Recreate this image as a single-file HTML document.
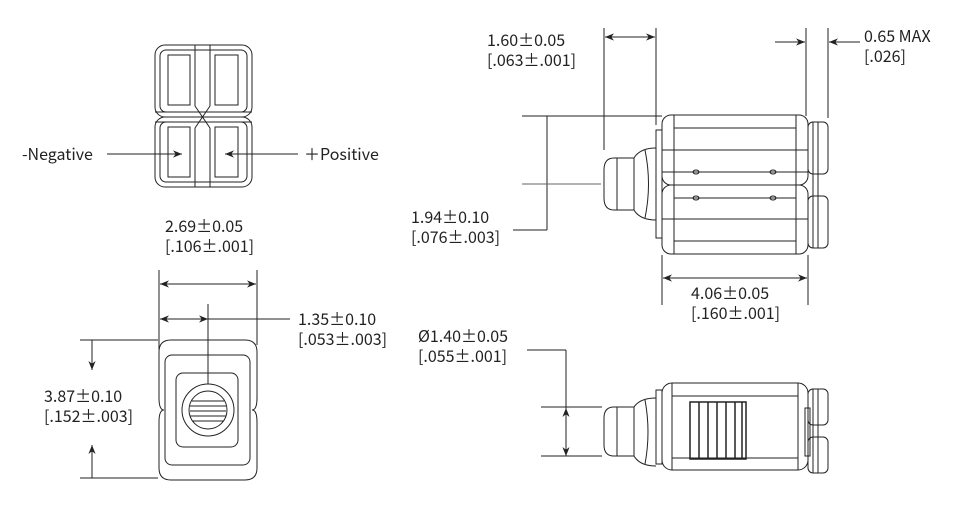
<!DOCTYPE html>
<html><head><meta charset="utf-8"><style>
html,body{margin:0;padding:0;background:#fff}
svg{display:block}
text{font-family:"Noto Sans CJK SC","Liberation Sans",sans-serif;font-size:16px;fill:#222}
</style></head><body>
<svg width="961" height="518" viewBox="0 0 961 518" xmlns="http://www.w3.org/2000/svg">
<defs>
<marker id="a" viewBox="0 0 10 10" refX="10" refY="5" markerWidth="9" markerHeight="9" orient="auto-start-reverse" markerUnits="userSpaceOnUse"><path d="M0,1 L10,5 L0,9 L3,5 Z" fill="#222"/></marker>
</defs>
<g fill="none" stroke="#222" stroke-width="1">
<!-- top-left view -->
<rect x="155" y="45" width="97" height="72" rx="10"/>
<rect x="155" y="117" width="97" height="70" rx="10"/>
<rect x="160" y="50" width="87" height="62" rx="6"/>
<rect x="160" y="122" width="87" height="60" rx="6"/>
<line x1="195" y1="45" x2="195" y2="106"/><line x1="210" y1="45" x2="210" y2="106"/>
<line x1="195" y1="128" x2="195" y2="187"/><line x1="210" y1="128" x2="210" y2="187"/>
<line x1="195" y1="106" x2="210" y2="128"/><line x1="210" y1="106" x2="195" y2="128"/>
<rect x="168" y="55" width="22" height="50"/><rect x="215" y="55" width="23" height="50"/>
<rect x="168" y="127" width="22" height="50"/><rect x="215" y="127" width="23" height="50"/>
<line x1="155" y1="112" x2="252" y2="112"/><line x1="155" y1="122" x2="252" y2="122"/>
<line x1="107" y1="154" x2="182" y2="154" marker-end="url(#a)"/>
<line x1="298" y1="154" x2="225" y2="154" marker-end="url(#a)"/>

<!-- bottom-left view -->
<path d="M171,340 H245 Q257,340 257,352 V398 Q257,410 252,410 Q257,410 257,422 V468 Q257,480 245,480 H171 Q159,480 159,468 V422 Q159,410 164,410 Q159,410 159,398 V352 Q159,340 171,340 Z"/>
<rect x="165" y="355" width="85" height="110" rx="7"/>
<rect x="176" y="373" width="62" height="74" rx="7"/>
<circle cx="208" cy="410" r="26"/><circle cx="208" cy="410" r="19"/>
<g stroke-width="1"><line x1="192" y1="401" x2="224" y2="401"/><line x1="190" y1="406" x2="226" y2="406"/><line x1="190" y1="411" x2="226" y2="411"/><line x1="190" y1="416" x2="226" y2="416"/><line x1="192" y1="421" x2="224" y2="421"/></g>
<line x1="159" y1="270" x2="159" y2="350"/><line x1="257" y1="270" x2="257" y2="345"/>
<line x1="160" y1="284" x2="256" y2="284" marker-start="url(#a)" marker-end="url(#a)"/>
<line x1="160" y1="319" x2="208" y2="319" marker-start="url(#a)" marker-end="url(#a)"/>
<line x1="208" y1="319" x2="290" y2="319"/>
<line x1="208" y1="304" x2="208" y2="384"/>
<line x1="80" y1="340" x2="158" y2="340"/><line x1="80" y1="478" x2="158" y2="478"/>
<line x1="92" y1="340" x2="92" y2="370" marker-end="url(#a)"/>
<line x1="92" y1="478" x2="92" y2="445" marker-end="url(#a)"/>

<!-- top-right view -->
<line x1="604" y1="28" x2="604" y2="150"/><line x1="656" y1="28" x2="656" y2="125"/>
<line x1="605" y1="37" x2="655" y2="37" marker-start="url(#a)" marker-end="url(#a)"/>
<line x1="806" y1="28" x2="806" y2="116"/><line x1="828" y1="28" x2="828" y2="118"/>
<line x1="775" y1="42" x2="805" y2="42" marker-end="url(#a)"/>
<line x1="860" y1="42" x2="829" y2="42" marker-end="url(#a)"/>
<line x1="522" y1="116" x2="662" y2="116"/>
<line x1="547" y1="116" x2="547" y2="230"/><line x1="513" y1="230" x2="547" y2="230"/>
<line x1="522" y1="184" x2="601" y2="184" stroke="#666"/>
<rect x="662" y="115" width="146" height="70" rx="9"/>
<rect x="662" y="185" width="146" height="69" rx="9"/>
<line x1="674" y1="128" x2="796" y2="128"/><line x1="662" y1="150" x2="808" y2="150"/>
<line x1="662" y1="172" x2="808" y2="172"/><line x1="674" y1="198" x2="796" y2="198"/>
<line x1="662" y1="219" x2="808" y2="219"/><line x1="674" y1="241" x2="796" y2="241"/>
<line x1="674" y1="115" x2="674" y2="254"/><line x1="796" y1="115" x2="796" y2="254"/>
<ellipse cx="696" cy="172" rx="3" ry="2"/><ellipse cx="773" cy="172" rx="3" ry="2"/>
<ellipse cx="696" cy="198" rx="3" ry="2"/><ellipse cx="773" cy="198" rx="3" ry="2"/>
<rect x="656" y="130" width="6" height="108"/>
<path d="M656,148 Q640,148 634,158 H614 Q604,158 604,170 V198 Q604,210 614,210 H634 Q640,220 656,220"/>
<line x1="617" y1="158" x2="617" y2="210"/><line x1="634" y1="158" x2="634" y2="210"/>
<path d="M645,150 Q652,184 645,218"/>
<rect x="808" y="122" width="20" height="52" rx="5"/><rect x="808" y="196" width="20" height="52" rx="5"/>
<line x1="813" y1="122" x2="813" y2="248"/><line x1="818" y1="122" x2="818" y2="248"/>
<line x1="662" y1="255" x2="662" y2="305"/><line x1="808" y1="255" x2="808" y2="305"/>
<line x1="663" y1="278" x2="807" y2="278" marker-start="url(#a)" marker-end="url(#a)"/>

<!-- bottom-right view -->
<line x1="527" y1="350" x2="566" y2="350"/><line x1="566" y1="350" x2="566" y2="408" />
<line x1="566" y1="432" x2="566" y2="408" marker-end="url(#a)"/>
<line x1="566" y1="432" x2="566" y2="456" marker-end="url(#a)"/>
<line x1="541" y1="407" x2="602" y2="407"/><line x1="541" y1="456" x2="602" y2="456"/>
<rect x="662" y="383" width="146" height="87" rx="10"/>
<line x1="672" y1="396" x2="798" y2="396"/><line x1="672" y1="458" x2="798" y2="458"/>
<line x1="672" y1="383" x2="672" y2="470"/><line x1="798" y1="383" x2="798" y2="470"/>
<rect x="690" y="402" width="56" height="57" stroke-width="1.5"/>
<g stroke-width="1.5"><line x1="699" y1="402" x2="699" y2="459"/><line x1="708" y1="402" x2="708" y2="459"/><line x1="717" y1="402" x2="717" y2="459"/><line x1="726" y1="402" x2="726" y2="459"/><line x1="735" y1="402" x2="735" y2="459"/><line x1="742" y1="402" x2="742" y2="459"/></g>
<rect x="656" y="390" width="6" height="74"/>
<path d="M656,398 Q640,398 634,407 H614 Q604,407 604,418 V445 Q604,456 614,456 H634 Q640,466 656,466"/>
<line x1="617" y1="407" x2="617" y2="456"/><line x1="634" y1="407" x2="634" y2="456"/>
<path d="M645,400 Q651,432 645,464"/>
<rect x="808" y="389" width="20" height="36" rx="5"/><rect x="808" y="437" width="20" height="36" rx="5"/>
<line x1="813" y1="389" x2="813" y2="473"/><line x1="818" y1="389" x2="818" y2="473"/>
<rect x="805" y="408" width="5" height="48"/>
</g>
<text x="22" y="160">-Negative</text>
<text x="304" y="160">＋Positive</text>
<text x="165" y="232">2.69±0.05</text>
<text x="165" y="252">[.106±.001]</text>
<text x="298" y="325">1.35±0.10</text>
<text x="298" y="345">[.053±.003]</text>
<text x="44" y="402">3.87±0.10</text>
<text x="44" y="422">[.152±.003]</text>
<text x="487" y="46">1.60±0.05</text>
<text x="487" y="66">[.063±.001]</text>
<text x="864" y="42">0.65 MAX</text>
<text x="864" y="62">[.026]</text>
<text x="411" y="223">1.94±0.10</text>
<text x="411" y="243">[.076±.003]</text>
<text x="691" y="299">4.06±0.05</text>
<text x="691" y="319">[.160±.001]</text>
<text x="418" y="342">Ø1.40±0.05</text>
<text x="418" y="362">[.055±.001]</text>
</svg>
</body></html>
